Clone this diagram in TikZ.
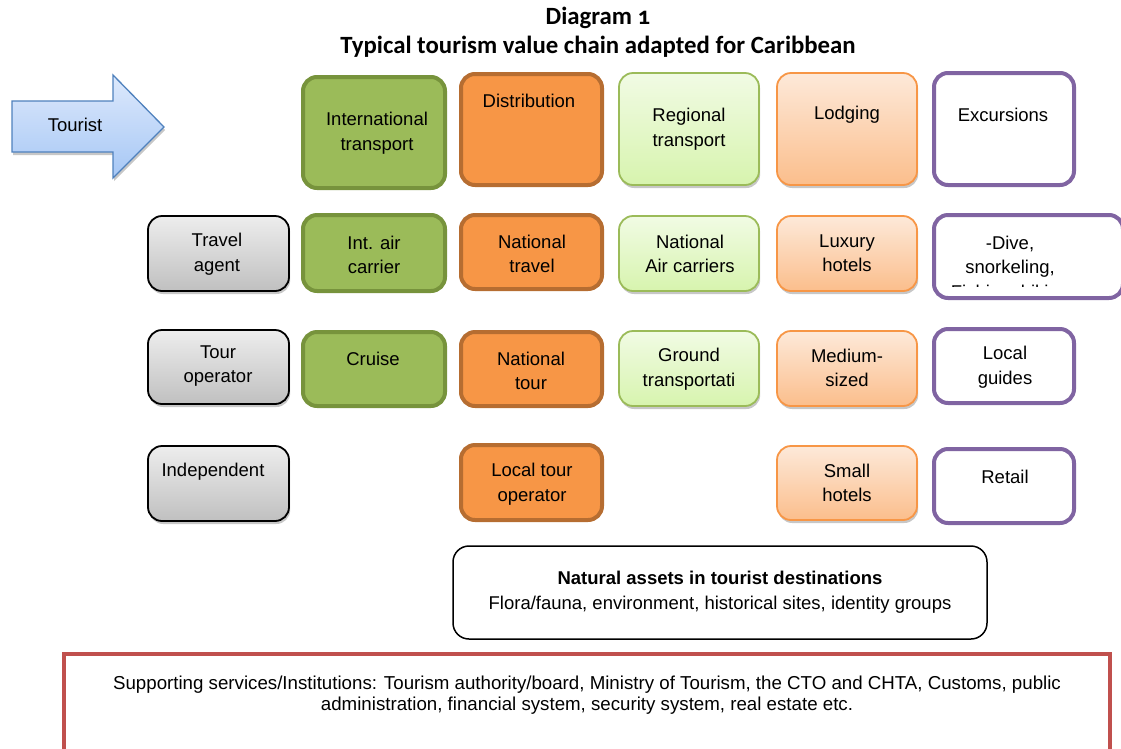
\documentclass[tikz,border=0pt]{standalone}
\usepackage{fontspec}
\setmainfont{Liberation Sans}
\newfontfamily\titlefont{Carlito}[Numbers=OldStyle]
\usetikzlibrary{shadows}
\definecolor{grayTop}{HTML}{EDEDED}
\definecolor{grayBot}{HTML}{C0C0C0}
\definecolor{olive}{HTML}{9BBB59}
\definecolor{oliveDark}{HTML}{77933C}
\definecolor{orangeMain}{HTML}{F79646}
\definecolor{orangeDark}{HTML}{B66D31}
\definecolor{lgTop}{HTML}{F1FBE4}
\definecolor{lgBot}{HTML}{D7F4AE}
\definecolor{loTop}{HTML}{FDE9D9}
\definecolor{loBot}{HTML}{FBBE8C}
\definecolor{purpleLine}{HTML}{8064A2}
\definecolor{redLine}{HTML}{C0504D}
\definecolor{arrTop}{HTML}{DDE9FC}
\definecolor{arrBot}{HTML}{A6C7F5}
\definecolor{arrLine}{HTML}{4F81BD}
\begin{document}
\begin{tikzpicture}[x=1pt,y=-1pt,
  shade/.style={drop shadow={shadow xshift=1.2pt,shadow yshift=-3pt,opacity=.22,fill=black}},
  basebox/.style={rectangle,rounded corners=14pt,inner sep=0pt},
  graybox/.style={basebox,draw=black,line width=1.8pt,top color=grayTop,bottom color=grayBot,shade},
  greenbox/.style={basebox,draw=oliveDark,line width=4pt,fill=olive},
  orangebox/.style={basebox,draw=orangeDark,line width=4pt,fill=orangeMain},
  lgbox/.style={basebox,draw=olive,line width=1.8pt,top color=lgTop,bottom color=lgBot,shade},
  lobox/.style={basebox,draw=orangeMain,line width=1.8pt,top color=loTop,bottom color=loBot,shade},
  purplebox/.style={basebox,draw=purpleLine,line width=4pt,fill=white},
  txt/.style={align=center,inner sep=0pt,font=\fontsize{18.5}{24.5}\selectfont},
]
\useasboundingbox (0,0) rectangle (1121,748);

% title
\node[font=\titlefont\bfseries\fontsize{24.8}{28.5}\selectfont,align=center,inner sep=0pt] (title) at (598,32) {Diagram 1\\Typical tourism value chain adapted for Caribbean};

% tourist arrow
\path[draw=arrLine,line width=1.3pt,top color=arrTop,bottom color=arrBot,shade,line join=miter]
  (12,101) -- (113,101) -- (113,75) -- (164,127) -- (113,178) -- (113,152) -- (12,152) -- cycle;
\node[txt] (tourist) at (75,125) {Tourist};

% column 1 gray
\node[graybox,minimum width=141pt,minimum height=75pt] (travel) at (218.5,253.5) {};
\node[graybox,minimum width=141pt,minimum height=74pt] (tourop) at (218.5,367) {};
\node[graybox,minimum width=141pt,minimum height=75pt] (indep) at (218.5,483.5) {};
\node[txt] (ttravel) at (217,254) {Travel\\agent};
\node[txt] (ttourop) at (218,366) {Tour\\operator};
\node[txt] (tindep) at (213,472) {Independent};

% column 2 green
\node[greenbox,minimum width=142pt,minimum height=111pt] (intl) at (374,132.5) {};
\node[greenbox,minimum width=142pt,minimum height=76pt] (intair) at (374,253) {};
\node[greenbox,minimum width=142pt,minimum height=74pt] (cruise) at (374,369) {};
\node[txt] (tintl) at (377,133) {International\\transport};
\node[txt] (tintair) at (374,255) {Int. air\\carrier};
\node[txt] (tcruise) at (373,359) {Cruise};

% column 3 orange
\node[orangebox,minimum width=141pt,minimum height=111pt] (distr) at (531.5,129.5) {};
\node[orangebox,minimum width=141pt,minimum height=74pt] (nattravel) at (531.5,252) {};
\node[orangebox,minimum width=141pt,minimum height=74pt] (nattour) at (531.5,369) {};
\node[orangebox,minimum width=141pt,minimum height=75pt] (localtour) at (531.5,482.5) {};
\node[txt] (tdistr) at (529,101) {Distribution};
\node[txt] (tnattravel) at (532,254) {National\\travel};
\node[txt] (tnattour) at (531,371) {National\\tour};
\node[txt] (tlocaltour) at (532,484) {Local tour\\operator};

% column 4 light green
\node[lgbox,minimum width=140pt,minimum height=112pt] (regional) at (689,129) {};
\node[lgbox,minimum width=140pt,minimum height=75pt] (natair) at (689,253.5) {};
\node[lgbox,minimum width=140pt,minimum height=75pt] (ground) at (689,368.5) {};
\node[txt] (tregional) at (689,129) {Regional\\transport};
\node[txt] (tnatair) at (690,254) {National\\Air carriers};
\node[txt] (tground) at (689,369) {Ground\\transportati};

% column 5 light orange
\node[lobox,minimum width=140pt,minimum height=112pt] (lodging) at (847,129) {};
\node[lobox,minimum width=140pt,minimum height=75pt] (luxury) at (847,253.5) {};
\node[lobox,minimum width=140pt,minimum height=75pt] (medium) at (847,368.5) {};
\node[lobox,minimum width=140pt,minimum height=74pt] (small) at (847,483) {};
\node[txt] (tlodging) at (847,115) {Lodging};
\node[txt] (tluxury) at (847,253) {Luxury\\hotels};
\node[txt] (tmedium) at (847,368) {Medium-\\sized};
\node[txt] (tsmall) at (847,483) {Small\\hotels};

% column 6 purple
\node[purplebox,minimum width=140pt,minimum height=112pt] (excursions) at (1004,129) {};
\node[purplebox,minimum width=189pt,minimum height=83pt] (dive) at (1028.5,256.5) {};
\node[purplebox,minimum width=140pt,minimum height=74pt] (guides) at (1004,366) {};
\node[purplebox,minimum width=140pt,minimum height=74pt] (retail) at (1004,486) {};
\node[txt] (texc) at (1003,115) {Excursions};
\begin{scope}
  \clip (934,216) rectangle (1121,286.5);
  \node[txt] (tdive) at (1010,269) {-Dive,\\snorkeling,\\Fishing, biking};
\end{scope}
\node[txt] (tguides) at (1005,367) {Local\\guides};
\node[txt] (tretail) at (1005,477) {Retail};

% natural assets
\node[basebox,rounded corners=16pt,draw=black,line width=1.5pt,fill=white,minimum width=534pt,minimum height=93pt] (natural) at (720,592.5) {};
\node[txt] (tnatural) at (720,592) {\textbf{Natural assets in tourist destinations}\\Flora/fauna, environment, historical sites, identity groups};

% supporting services
\node[rectangle,draw=redLine,line width=4pt,fill=white,minimum width=1046pt,minimum height=124pt] (support) at (587,716) {};
\node[align=center,inner sep=0pt,font=\fontsize{18.7}{21.5}\selectfont] (tsupport) at (587,695) {Supporting services/Institutions: Tourism authority/board, Ministry of Tourism, the CTO and CHTA, Customs, public\\administration, financial system, security system, real estate etc.};
\end{tikzpicture}
\end{document}
